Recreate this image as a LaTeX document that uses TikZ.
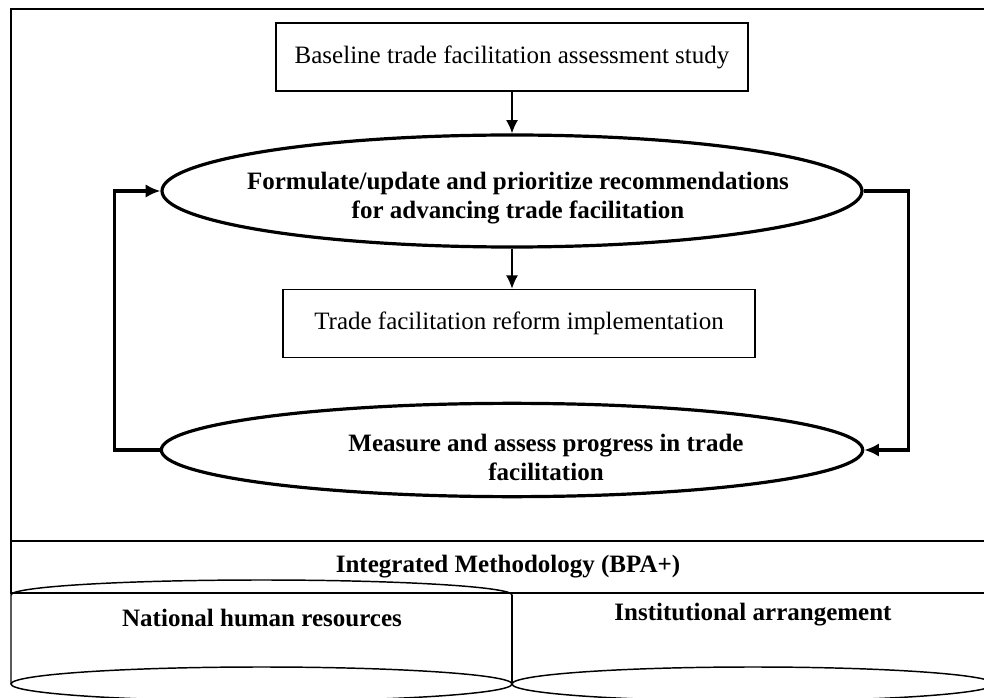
\documentclass[tikz,border=0pt]{standalone}
\usepackage{fontspec}
\setmainfont{Liberation Serif}
\usetikzlibrary{arrows.meta,%
	shapes.geometric}

\begin{document}
\begin{tikzpicture}[x=0.75pt,y=-0.75pt,
	step_box/.style={draw,line width=1.2pt,minimum width=354pt,minimum height=51pt,inner sep=0pt,font=\fontsize{18.75}{21.75}\selectfont},
	loop_ellipse/.style={ellipse,draw,line width=2.4pt,inner sep=0pt},
	bold_text/.style={align=center,inner sep=0pt,font=\fontsize{18.75}{21.75}\selectfont\bfseries},
	down_arrow/.style={-{Latex[length=10pt,width=9pt]},line width=1.1pt},
	loop_arrow/.style={-{Latex[length=11pt,width=10pt]},line width=2.4pt},
	frame_line/.style={line width=1.1pt}]

		\clip (0,0) rectangle (984,698);

		% outer frame and methodology band
		\draw[frame_line] (11,9) rectangle (995,541);
		\draw[frame_line] (11,541) rectangle (995,593);
		\node[bold_text] (method) at (508,567) {Integrated Methodology (BPA+)};

		\node[step_box] (baseline) at (512,57) {Baseline trade facilitation assessment study};
		\node[loop_ellipse,minimum width=525pt,minimum height=84pt] (formulate) at (512,191) {};
		\node[bold_text] (formulate_text) at (518,198) {Formulate/update and prioritize recommendations\\for advancing trade facilitation};
		\node[step_box] (reform) at (519,323.5) {Trade facilitation reform implementation};
		\node[loop_ellipse,minimum width=526pt,minimum height=70pt] (measure) at (512,450) {};
		\node[bold_text] (measure_text) at (546,457) {Measure and assess progress in trade\\facilitation};

		\draw[down_arrow] (baseline) -- (formulate);
		\draw[down_arrow] (formulate.south) -- (formulate.south |- reform.north);
		\draw[loop_arrow] (measure.west) -- ++(-45,0) |- (formulate.west);
		\draw[loop_arrow] (formulate.east) -- ++(45,0) |- (measure.east);

		% resource cylinders
		\draw[frame_line] (11,684) -- (11,595) arc[start angle=180,end angle=360,x radius=250.5,y radius=15] -- (512,684);
		\draw[frame_line] (261.5,684) ellipse [x radius=250.5,y radius=17];
		\draw[frame_line] (512,595) -- (512,684);
		\draw[frame_line] (753,684) ellipse [x radius=241,y radius=17];
		\node[bold_text] (national) at (262,618) {National human resources};
		\node[bold_text] (institutional) at (753,615) {Institutional arrangement};
		\end{tikzpicture}
\end{document}
